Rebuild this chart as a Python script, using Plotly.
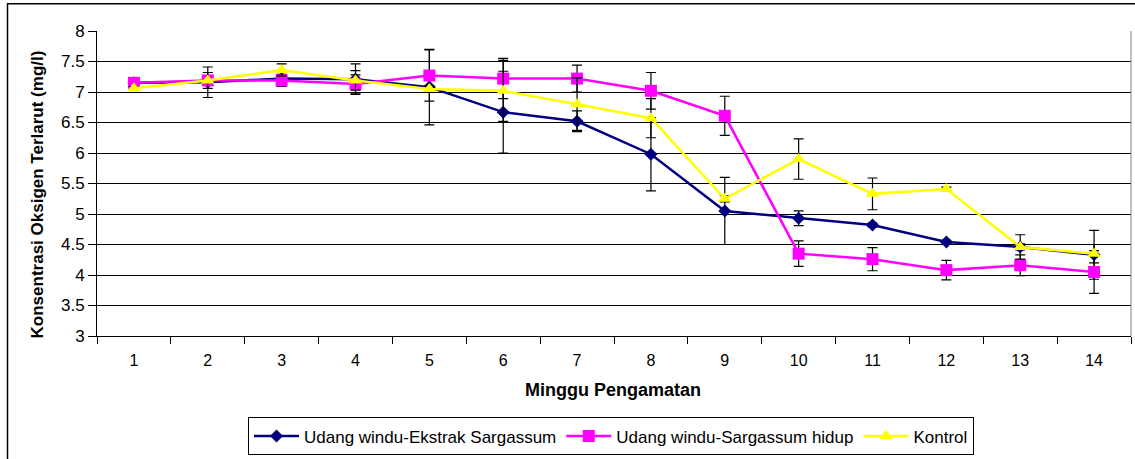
import plotly.graph_objects as go

weeks = [str(i) for i in range(1, 15)]

ekstrak = [7.15, 7.16, 7.22, 7.21, 7.08, 6.67, 6.52, 5.98, 5.05, 4.93, 4.82, 4.54, 4.46, 4.33]
ekstrak_sd = [0.03, 0.25, 0.05, 0.25, 0.62, 0.67, 0.17, 0.60, 0.55, 0.12, 0.03, 0.03, 0.05, 0.40]

hidup = [7.15, 7.19, 7.19, 7.13, 7.27, 7.22, 7.22, 7.02, 6.61, 4.35, 4.26, 4.08, 4.16, 4.05]
hidup_sd = [0.03, 0.05, 0.10, 0.15, 0.42, 0.33, 0.22, 0.30, 0.32, 0.21, 0.19, 0.16, 0.17, 0.35]

kontrol = [7.06, 7.19, 7.36, 7.19, 7.05, 7.02, 6.80, 6.57, 5.25, 5.90, 5.33, 5.41, 4.46, 4.35]
kontrol_sd = [0.03, 0.13, 0.10, 0.16, 0.05, 0.50, 0.43, 0.32, 0.05, 0.33, 0.26, 0.03, 0.20, 0.15]

names = ["Udang windu-Ekstrak Sargassum", "Udang windu-Sargassum hidup", "Kontrol"]
y_ticks = [3, 3.5, 4, 4.5, 5, 5.5, 6, 6.5, 7, 7.5, 8]

FONT = "Liberation Sans, Arial, sans-serif"

def err(arr):
    return dict(type="data", array=arr, visible=True, color="black",
                thickness=1.2, width=5)

fig = go.Figure()
fig.add_trace(go.Scatter(
    x=weeks, y=ekstrak, name=names[0], mode="lines+markers",
    line=dict(color="#000080", width=2.5),
    marker=dict(symbol="diamond", size=10, color="#000080"),
    error_y=err(ekstrak_sd)))
fig.add_trace(go.Scatter(
    x=weeks, y=hidup, name=names[1], mode="lines+markers",
    line=dict(color="#FF00FF", width=2.5),
    marker=dict(symbol="square", size=12, color="#FF00FF"),
    error_y=err(hidup_sd)))
fig.add_trace(go.Scatter(
    x=weeks, y=kontrol, name=names[2], mode="lines+markers",
    line=dict(color="#FFFF00", width=2.5),
    marker=dict(symbol="triangle-up", size=12, color="#FFFF00"),
    error_y=err(kontrol_sd)))

L, R, T, B = 97, 4, 31, 121
W, H = 1135, 459
pw = W - L - R
ph = H - T - B

def px_x(px):
    return (px - L) / pw

def px_y(py):
    return (H - B - py) / ph

fig.update_layout(
    template="none",
    width=W, height=H,
    margin=dict(l=L, r=R, t=T, b=B, pad=0),
    paper_bgcolor="white", plot_bgcolor="white",
    font=dict(family=FONT, color="black", size=15),
    showlegend=True,
    hovermode=False,
    legend=dict(orientation="h", x=px_x(611), xanchor="center",
                y=px_y(439), yanchor="middle",
                bordercolor="black", borderwidth=1,
                font=dict(family=FONT, size=17, color="black"),
                itemwidth=45, tracegroupgap=0, bgcolor="white"),
    xaxis=dict(type="category", categoryorder="array", categoryarray=weeks,
               range=[-0.5, 13.5], automargin=False,
               showline=True, linecolor="black", linewidth=1,
               ticks="outside", tickson="boundaries", ticklen=7,
               ticklabelstandoff=10,
               tickcolor="black", tickwidth=1, showgrid=False, zeroline=False,
               tickfont=dict(family=FONT, size=16, color="black")),
    yaxis=dict(range=[3, 8], tickvals=y_ticks, automargin=False,
               ticktext=[("%g" % v) for v in y_ticks],
               showline=True, linecolor="black", linewidth=1,
               ticks="outside", ticklen=8, tickcolor="black", tickwidth=1,
               showgrid=True, gridcolor="black", gridwidth=1,
               zeroline=False,
               tickfont=dict(family=FONT, size=17, color="black")),
    annotations=[
        dict(text="<b>Konsentrasi Oksigen Terlarut (mg/l)</b>", textangle=-90,
             xref="paper", yref="paper", x=px_x(37.5), y=px_y(196),
             xanchor="center", yanchor="middle", showarrow=False,
             font=dict(family=FONT, size=17, color="black")),
        dict(text="<b>Minggu Pengamatan</b>",
             xref="paper", yref="paper", x=px_x(613), y=px_y(392),
             xanchor="center", yanchor="middle", showarrow=False,
             font=dict(family=FONT, size=18, color="black")),
    ],
    shapes=[
        dict(type="line", xref="paper", yref="paper", x0=1, x1=1, y0=0, y1=1,
             line=dict(color="#808080", width=1)),
        dict(type="rect", xref="paper", yref="paper",
             x0=px_x(7.5), x1=px_x(1200), y0=px_y(520), y1=px_y(3.5),
             line=dict(color="black", width=1.5), fillcolor="rgba(0,0,0,0)"),
    ],
)

fig.write_html("out.html",
               config={"displayModeBar": False},
               post_script="document.body.style.margin='0';document.body.style.overflow='hidden';")
